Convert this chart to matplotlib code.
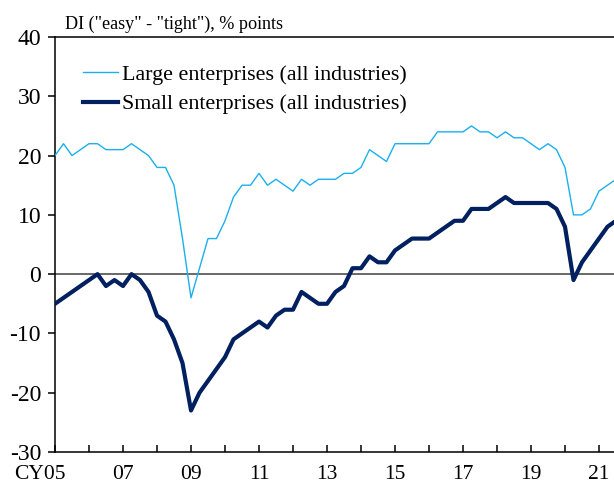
import matplotlib
matplotlib.use("Agg")
import matplotlib.pyplot as plt
import matplotlib.transforms as mtransforms
import numpy as np

# Lending attitude DI, quarterly from CY2005 Q1 to CY2021 Q3
large = [20, 22, 20, 21, 22, 22, 21, 21,
         21, 22, 21, 20, 18, 18, 15, 6,
         -4, 1, 6, 6, 9, 13, 15, 15,
         17, 15, 16, 15, 14, 16, 15, 16,
         16, 16, 17, 17, 18, 21, 20, 19,
         22, 22, 22, 22, 22, 24, 24, 24,
         24, 25, 24, 24, 23, 24, 23, 23,
         22, 21, 22, 21, 18, 10, 10, 11,
         14, 15, 16]
small = [-5, -4, -3, -2, -1, 0, -2, -1,
         -2, 0, -1, -3, -7, -8, -11, -15,
         -23, -20, -18, -16, -14, -11, -10, -9,
         -8, -9, -7, -6, -6, -3, -4, -5,
         -5, -3, -2, 1, 1, 3, 2, 2,
         4, 5, 6, 6, 6, 7, 8, 9,
         9, 11, 11, 11, 12, 13, 12, 12,
         12, 12, 12, 11, 8, -1, 2, 4,
         6, 8, 9]
start_year = 2005
label_years = list(range(2005, 2022, 2))
tick_labels = ["CY05", "07", "09", "11", "13", "15", "17", "19", "21"]

plt.rcParams["font.family"] = ["Liberation Serif", "DejaVu Serif"]
plt.rcParams["axes.unicode_minus"] = False

quarters = start_year + np.arange(len(large)) / 4.0

fig = plt.figure(figsize=(6.14, 4.84), dpi=100)
W, H = 614, 484
ax = fig.add_axes([55 / W, (H - 452) / H, (W - 55) / W, (452 - 37) / H])

ax.axhline(0, color="#404040", lw=1.1, zorder=1)
ax.plot(quarters, large, color="#1AB0EE", lw=1.0, label="Large enterprises (all industries)", zorder=3)
ax.plot(quarters, small, color="#002060", lw=3.0, label="Small enterprises (all industries)", zorder=4)

ax.set_xlim(2005, 2005 + 559 / 34)
ax.set_ylim(-30, 40)
ax.set_yticks(range(-30, 41, 10))
ax.set_xticks(label_years)
ax.set_xticklabels(tick_labels)
ax.set_xticks(range(2006, 2022, 2), minor=True)

for s in ["left", "top", "bottom"]:
    ax.spines[s].set_linewidth(1.1)
    ax.spines[s].set_color("black")
ax.spines["right"].set_visible(False)

ax.tick_params(axis="y", direction="out", length=5, width=1.1, labelsize=17, pad=5)
ax.tick_params(axis="x", which="both", direction="in", length=5, width=1.1, labelsize=15.5, pad=9.5)

# "05" sits on the tick, "CY" hangs to the left
first = ax.get_xticklabels()[0]
first.set_horizontalalignment("right")
first.set_transform(first.get_transform() + mtransforms.ScaledTranslation(11 / 100, 0, fig.dpi_scale_trans))

leg = ax.legend(loc="upper left", bbox_to_anchor=(0.034, 0.955), frameon=False,
                fontsize=15.8, handlelength=1.6, handletextpad=0.2, labelspacing=0.42,
                borderaxespad=0)

fig.text(65 / W, 1 - 29 / H, 'DI ("easy" - "tight"), % points', fontsize=13.1, va="baseline")

fig.savefig("out.png", dpi=100)
